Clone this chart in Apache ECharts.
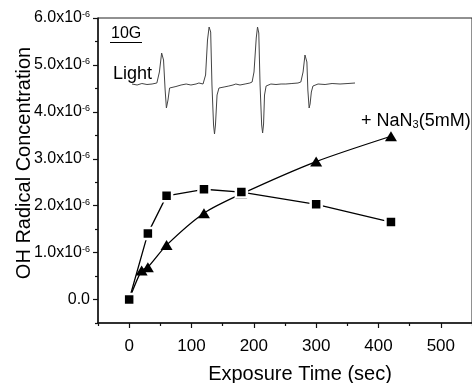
<!DOCTYPE html>
<html><head><meta charset="utf-8">
<script src="https://cdn.jsdelivr.net/npm/echarts@6/dist/echarts.min.js"></script>
<style>html,body{margin:0;padding:0;background:#fff}#c{width:472px;height:383px}</style>
</head><body><div id="c"></div>
<script>
// ---- data (concentration in units of 1e-6) ----
const timeControl = [0, 30, 60, 120, 180, 300, 420];
const ohControl   = [0, 1.41, 2.21, 2.35, 2.29, 2.03, 1.65];
const timeNaN3 = [0, 20, 30, 60, 120, 180, 300, 420];
const ohNaN3   = [0, 0.62, 0.69, 1.16, 1.84, 2.25, 2.94, 3.48];

const xMajorTicks = [0, 100, 200, 300, 400, 500];
const xMinorTicks = [-50, 50, 150, 250, 350, 450, 550];
const yMajorTicks = [0, 1, 2, 3, 4, 5, 6];
const yMinorTicks = [-0.5, 0.5, 1.5, 2.5, 3.5, 4.5, 5.5];

// ESR inset spectrum (field in G, intensity in arbitrary units)
const esrField = [0,1.6,3.1,4.7,6.3,7.8,8.6,9.3,9.6,9.9,10.4,10.8,11.0,11.3,11.8,12.2,
  13.8,15.4,17.0,17.6,18.5,20.1,21.0,22.3,
  23.1,23.7,24.2,24.7,25.1,25.6,25.9,26.2,26.7,27.3,
  28.9,30.4,31.7,32.6,33.9,35.5,37.0,37.7,
  38.3,39.0,39.4,39.8,40.2,40.7,41.0,41.3,41.6,42.1,
  43.6,45.2,46.8,48.3,50.2,52.1,53.0,
  53.7,54.3,54.6,54.9,55.2,55.6,55.9,56.3,56.8,
  58.4,60.6,62.8,65.3,67.8,70.0];
const esrSignal = [1,0,1.5,0.5,1,2,13,32,33,25,-5,-23,-25,-15,-3,-1,
  -1.5,0,1,2,0,1,2,1,
  10,45,58,53,0,-40,-49,-40,-10,-3,
  -2,-1,0,1,0,1,2,3,
  13,47,58,52,0,-40,-48,-39,-10,-1,
  1,0.5,1,1,1.5,2,3,
  13,30,31,23,-5,-23,-19,-7,-1,
  1,0.5,1.5,1,1.5,2];

const FONT = 'Liberation Sans, Arial, sans-serif';
const chart = echarts.init(document.getElementById('c'));

const zip = (a, b) => a.map((v, i) => [v, b[i]]);

chart.setOption({
  animation: false,
  backgroundColor: '#fff',
  grid: [
    {left: 98, top: 18, width: 377, height: 305, show: true, borderColor: '#222', borderWidth: 1, backgroundColor: 'transparent'},
    {left: 132, top: 25, width: 223, height: 115}
  ],
  xAxis: [
    {type: 'value', gridIndex: 0, position: 'bottom', min: -50, max: 550,
     axisLine: {show: true, onZero: false, lineStyle: {color: '#111', width: 1.5}},
     axisTick: {show: true, inside: false, length: 5, customValues: xMajorTicks, lineStyle: {color: '#111', width: 1.2}},
     axisLabel: {show: true, customValues: xMajorTicks, fontSize: 17, fontFamily: FONT, color: '#000', margin: 15},
     splitLine: {show: false}},
    {type: 'value', gridIndex: 0, position: 'bottom', min: -50, max: 550,
     axisLine: {show: false, onZero: false},
     axisTick: {show: true, inside: false, length: 3, customValues: xMinorTicks, lineStyle: {color: '#111', width: 1.2}},
     axisLabel: {show: false}, splitLine: {show: false}},
    {type: 'value', gridIndex: 1, min: 0, max: 70, show: false}
  ],
  yAxis: [
    {type: 'value', gridIndex: 0, position: 'left', min: -0.5, max: 6,
     axisLine: {show: true, onZero: false, lineStyle: {color: '#111', width: 1.5}},
     axisTick: {show: true, inside: false, length: 5, customValues: yMajorTicks, lineStyle: {color: '#111', width: 1.2}},
     axisLabel: {show: true, customValues: yMajorTicks, margin: 8, fontFamily: FONT, color: '#000',
       formatter: v => v === 0 ? '{a|0.0}' : '{a|' + v.toFixed(1) + 'x10}{s|-6}',
       rich: {a: {fontSize: 16, fontFamily: FONT, color: '#000'},
              s: {fontSize: 9, fontFamily: FONT, color: '#000', verticalAlign: 'top'}}},
     splitLine: {show: false}},
    {type: 'value', gridIndex: 0, position: 'left', min: -0.5, max: 6,
     axisLine: {show: false, onZero: false},
     axisTick: {show: true, inside: false, length: 3, customValues: yMinorTicks, lineStyle: {color: '#111', width: 1.2}},
     axisLabel: {show: false}, splitLine: {show: false}},
    {type: 'value', gridIndex: 1, min: -55, max: 60, show: false}
  ],
  series: [
    {type: 'line', xAxisIndex: 0, yAxisIndex: 0, data: zip(timeNaN3, ohNaN3),
     smooth: 0.25, symbol: 'triangle', symbolSize: [12, 10], showAllSymbol: true,
     lineStyle: {color: '#000', width: 1.3}, itemStyle: {color: '#000'}, z: 3},
    {type: 'line', xAxisIndex: 0, yAxisIndex: 0, data: zip(timeControl, ohControl),
     symbol: 'rect', symbolSize: 11, showAllSymbol: true,
     lineStyle: {color: '#000', width: 1.3}, itemStyle: {color: '#000', borderColor: '#fff', borderWidth: 2.5}, z: 4},
    {type: 'line', xAxisIndex: 2, yAxisIndex: 2, data: zip(esrField, esrSignal),
     symbol: 'none', lineStyle: {color: '#444', width: 1}, z: 2}
  ],
  graphic: [
    {type: 'text', style: {x: 111, y: 33.5, text: '10G', font: '16px ' + FONT, fill: '#000', verticalAlign: 'middle'}},
    {type: 'line', shape: {x1: 110, y1: 42.5, x2: 142, y2: 42.5}, style: {stroke: '#000', lineWidth: 1}},
    {type: 'text', style: {x: 113, y: 74, text: 'Light', font: '18px ' + FONT, fill: '#000', verticalAlign: 'middle'}},
    {type: 'text', style: {x: 361, y: 121, text: '+ NaN{s|3}(5mM)', font: '18px ' + FONT, fill: '#000', verticalAlign: 'middle',
       rich: {s: {fontSize: 11, fontFamily: FONT, verticalAlign: 'bottom', lineHeight: 8}}}},
    {type: 'text', style: {x: 300, y: 374, text: 'Exposure Time (sec)', font: '20px ' + FONT, fill: '#000', align: 'center', verticalAlign: 'middle'}},
    {type: 'text', x: 24, y: 163, rotation: Math.PI / 2,
     style: {x: 0, y: 0, text: 'OH Radical Concentration', font: '20px ' + FONT, fill: '#000', align: 'center', verticalAlign: 'middle'}}
  ]
});
</script></body></html>
